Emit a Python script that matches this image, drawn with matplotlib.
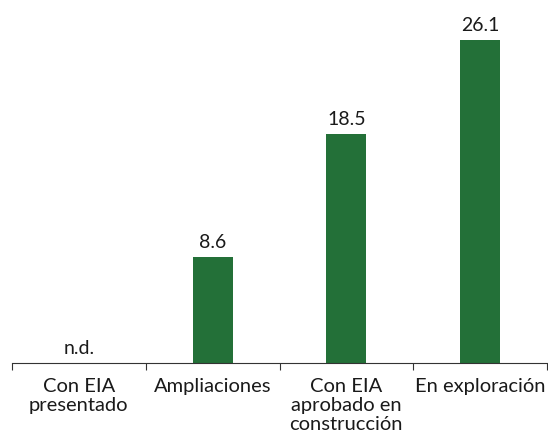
import matplotlib.pyplot as plt
import numpy as np

categories = ['Con EIA\npresentado', 'Ampliaciones', 'Con EIA\naprobado en\nconstrucción', 'En exploración']
values = [np.nan, 8.6, 18.5, 26.1]
labels = ['n.d.', '8.6', '18.5', '26.1']

plt.rcParams['font.family'] = ['Lato', 'DejaVu Sans']

fig = plt.figure(figsize=(5.48, 4.39), dpi=100)
ax = fig.add_axes([12 / 548, 75 / 439, 535 / 548, 346.7 / 439])

x = np.arange(len(categories))
heights = np.nan_to_num(values)
ax.bar(x, heights, width=0.3, color='#237038')

for xi, v, lab in zip(x, values, labels):
    y = 0 if np.isnan(v) else v
    ax.annotate(lab, (xi, y), xytext=(0, 5), textcoords='offset points',
                ha='center', va='bottom', fontsize=14, color='#1a1a1a')

ax.set_xlim(-0.5, len(categories) - 0.5)
ax.set_ylim(0, 28)
for s in ['left', 'top', 'right']:
    ax.spines[s].set_visible(False)
ax.spines['bottom'].set_color('#333333')
ax.set_yticks([])

ax.set_xticks(np.arange(-0.5, len(categories), 1))
ax.set_xticklabels([])
ax.tick_params(axis='x', which='major', length=5, direction='out', color='#333333')
ax.set_xticks(x, minor=True)
ax.set_xticklabels(categories, minor=True, fontsize=14.5, color='#1a1a1a', linespacing=1.15)
ax.tick_params(axis='x', which='minor', length=0, pad=10)

fig.savefig('out.png', dpi=100)
